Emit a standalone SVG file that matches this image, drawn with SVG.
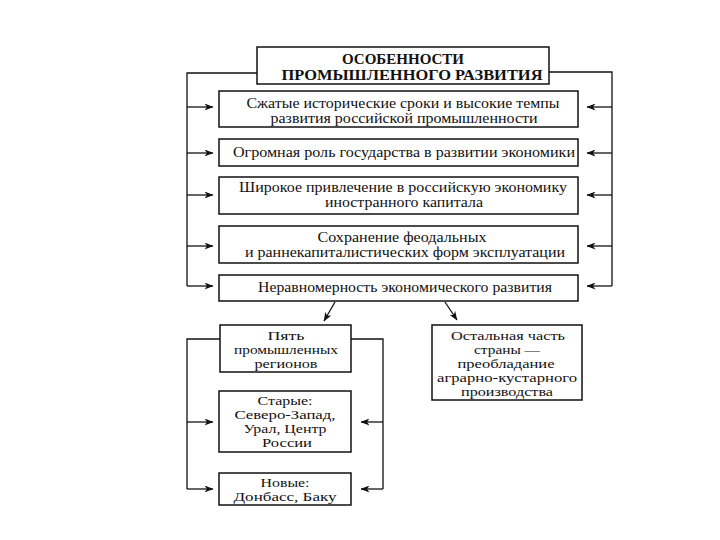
<svg xmlns="http://www.w3.org/2000/svg" width="720" height="540" viewBox="0 0 720 540">
<defs>
<style>
.box{fill:#fff;stroke:#111;stroke-width:1.5}
.ln{fill:none;stroke:#111;stroke-width:1.3}
.t{font-family:"Liberation Serif","Times New Roman",serif;font-size:15px;fill:#111;text-anchor:middle}
.s{font-family:"Liberation Serif","Times New Roman",serif;font-size:13px;fill:#111;text-anchor:middle}
.h{font-family:"Liberation Serif","Times New Roman",serif;font-size:15px;font-weight:bold;fill:#111;text-anchor:middle}
</style>
<marker id="ar" markerWidth="9" markerHeight="7" refX="8.5" refY="3.5" orient="auto" markerUnits="userSpaceOnUse">
<path d="M0,0 L9,3.5 L0,7 L2.5,3.5 Z" fill="#111"/>
</marker>
</defs>
<rect width="720" height="540" fill="#fff"/>
<g id="connectors">
<path class="ln" d="M257,73 H187 V286"/>
<path class="ln" d="M549,72 H612 V286"/>
<line class="ln" x1="187" y1="107" x2="213" y2="107" marker-end="url(#ar)"/>
<line class="ln" x1="187" y1="153" x2="213" y2="153" marker-end="url(#ar)"/>
<line class="ln" x1="187" y1="195" x2="213" y2="195" marker-end="url(#ar)"/>
<line class="ln" x1="187" y1="246" x2="213" y2="246" marker-end="url(#ar)"/>
<line class="ln" x1="187" y1="286" x2="213" y2="286" marker-end="url(#ar)"/>
<line class="ln" x1="612" y1="107" x2="587" y2="107" marker-end="url(#ar)"/>
<line class="ln" x1="612" y1="153" x2="587" y2="153" marker-end="url(#ar)"/>
<line class="ln" x1="612" y1="195" x2="587" y2="195" marker-end="url(#ar)"/>
<line class="ln" x1="612" y1="246" x2="587" y2="246" marker-end="url(#ar)"/>
<line class="ln" x1="612" y1="286" x2="587" y2="286" marker-end="url(#ar)"/>
<line class="ln" x1="335" y1="302" x2="324" y2="321" marker-end="url(#ar)"/>
<line class="ln" x1="445" y1="302" x2="457" y2="320" marker-end="url(#ar)"/>
<path class="ln" d="M220,339 H187 V489"/>
<path class="ln" d="M351,339 H383 V489"/>
<line class="ln" x1="187" y1="422" x2="213" y2="422" marker-end="url(#ar)"/>
<line class="ln" x1="187" y1="489" x2="213" y2="489" marker-end="url(#ar)"/>
<line class="ln" x1="383" y1="422" x2="361" y2="422" marker-end="url(#ar)"/>
<line class="ln" x1="383" y1="489" x2="361" y2="489" marker-end="url(#ar)"/>
</g>
<g id="title">
<rect class="box" x="257" y="47" width="292" height="37"/>
<text class="h" x="403" y="64" textLength="122" lengthAdjust="spacingAndGlyphs">ОСОБЕННОСТИ</text>
<text class="h" x="412" y="80" textLength="261" lengthAdjust="spacingAndGlyphs">ПРОМЫШЛЕННОГО РАЗВИТИЯ</text>
</g>
<g id="n1">
<rect class="box" x="219" y="91" width="359" height="36"/>
<text class="t" x="403" y="108" textLength="313" lengthAdjust="spacingAndGlyphs">Сжатые исторические сроки и высокие темпы</text>
<text class="t" x="404" y="123" textLength="267" lengthAdjust="spacingAndGlyphs">развития российской промышленности</text>
</g>
<g id="n2">
<rect class="box" x="219" y="139" width="359" height="27"/>
<text class="t" x="404" y="157" textLength="342" lengthAdjust="spacingAndGlyphs">Огромная роль государства в развитии экономики</text>
</g>
<g id="n3">
<rect class="box" x="219" y="177" width="359" height="37"/>
<text class="t" x="403" y="192" textLength="328" lengthAdjust="spacingAndGlyphs">Широкое привлечение в российскую экономику</text>
<text class="t" x="404" y="207" textLength="158" lengthAdjust="spacingAndGlyphs">иностранного капитала</text>
</g>
<g id="n4">
<rect class="box" x="219" y="226" width="359" height="37"/>
<text class="t" x="402" y="242" textLength="169" lengthAdjust="spacingAndGlyphs">Сохранение феодальных</text>
<text class="t" x="405" y="257" textLength="320" lengthAdjust="spacingAndGlyphs">и раннекапиталистических форм эксплуатации</text>
</g>
<g id="n5">
<rect class="box" x="219" y="275" width="359" height="26"/>
<text class="t" x="405" y="292" textLength="294" lengthAdjust="spacingAndGlyphs">Неравномерность экономического развития</text>
</g>
<g id="n6">
<rect class="box" x="220" y="325" width="131" height="47"/>
<text class="s" x="286" y="340" textLength="37" lengthAdjust="spacingAndGlyphs">Пять</text>
<text class="s" x="286" y="354" textLength="104" lengthAdjust="spacingAndGlyphs">промышленных</text>
<text class="s" x="286" y="368" textLength="63" lengthAdjust="spacingAndGlyphs">регионов</text>
</g>
<g id="n7">
<rect class="box" x="432" y="325" width="150" height="75"/>
<text class="s" x="508" y="340" textLength="114" lengthAdjust="spacingAndGlyphs">Остальная часть</text>
<text class="s" x="507" y="354" textLength="66" lengthAdjust="spacingAndGlyphs">страны —</text>
<text class="s" x="506" y="368" textLength="97" lengthAdjust="spacingAndGlyphs">преобладание</text>
<text class="s" x="507" y="382" textLength="140" lengthAdjust="spacingAndGlyphs">аграрно-кустарного</text>
<text class="s" x="507" y="396" textLength="92" lengthAdjust="spacingAndGlyphs">производства</text>
</g>
<g id="n8">
<rect class="box" x="219" y="391" width="132" height="61"/>
<text class="s" x="285" y="405" textLength="55" lengthAdjust="spacingAndGlyphs">Старые:</text>
<text class="s" x="285" y="419" textLength="101" lengthAdjust="spacingAndGlyphs">Северо-Запад,</text>
<text class="s" x="285" y="433" textLength="83" lengthAdjust="spacingAndGlyphs">Урал, Центр</text>
<text class="s" x="287" y="447" textLength="50" lengthAdjust="spacingAndGlyphs">России</text>
</g>
<g id="n9">
<rect class="box" x="219" y="473" width="132" height="32"/>
<text class="s" x="285" y="487" textLength="49" lengthAdjust="spacingAndGlyphs">Новые:</text>
<text class="s" x="285" y="501" textLength="103" lengthAdjust="spacingAndGlyphs">Донбасс, Баку</text>
</g>
</svg>
